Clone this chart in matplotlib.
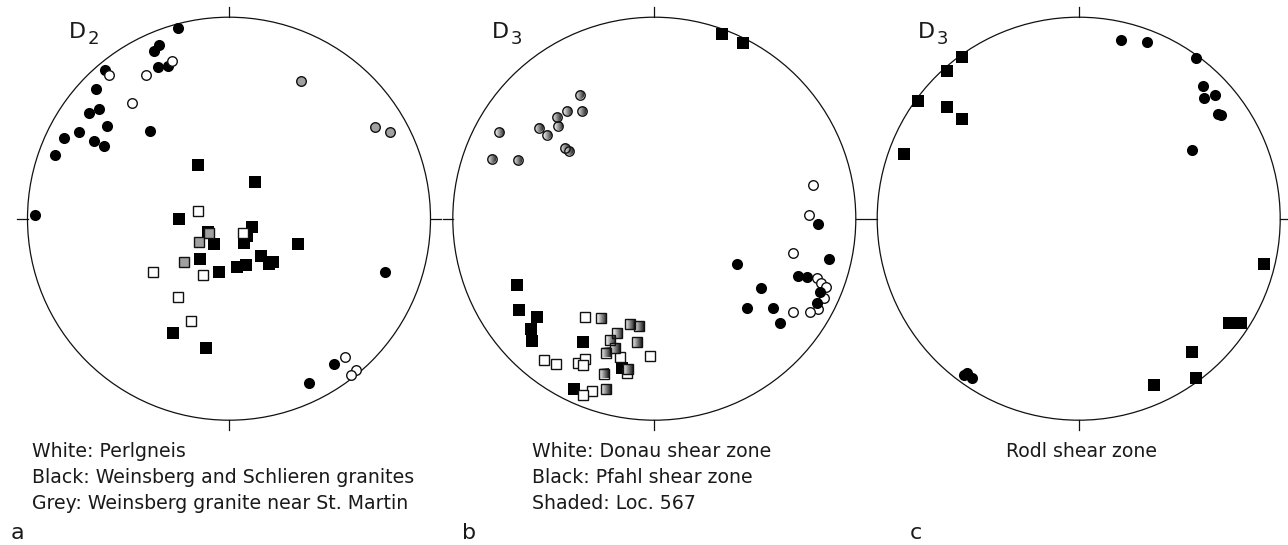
import numpy as np
import matplotlib
matplotlib.use("Agg")
import matplotlib.pyplot as plt
from matplotlib.patches import Circle

# positions on the equal-area net, x = east, y = north, net radius = 1
# --- net a (D2) ---
a_black_circ_x = [-0.252, -0.346, -0.371, -0.352, -0.304, -0.615, -0.662, -0.645, -0.696, -0.607,
                  -0.746, -0.817, -0.668, -0.620, -0.862, -0.391, -0.965, 0.774, 0.523, 0.397]
a_black_circ_y = [0.948, 0.862, 0.832, 0.751, 0.759, 0.736, 0.642, 0.543, 0.523, 0.459,
                  0.430, 0.400, 0.386, 0.362, 0.316, 0.437, 0.017, -0.266, -0.720, -0.815]
a_white_circ_x = [-0.283, -0.597, -0.412, -0.481, 0.577, 0.630, 0.604]
a_white_circ_y = [0.783, 0.712, 0.712, 0.574, -0.688, -0.751, -0.774]
a_grey_circ_x = [0.357, 0.725, 0.798]
a_grey_circ_y = [0.683, 0.455, 0.429]
a_black_sq_x = [-0.152, 0.129, -0.247, 0.116, -0.106, 0.088, -0.076, 0.073, 0.342, -0.144,
                0.157, 0.217, 0.200, 0.041, 0.083, -0.048, -0.278, -0.116]
a_black_sq_y = [0.265, 0.182, 0.000, -0.043, -0.065, -0.086, -0.126, -0.122, -0.124, -0.201,
                -0.187, -0.213, -0.226, -0.240, -0.231, -0.265, -0.567, -0.642]
a_white_sq_x = [-0.154, 0.069, -0.379, -0.131, -0.252, -0.187]
a_white_sq_y = [0.040, -0.069, -0.265, -0.278, -0.387, -0.509]
a_grey_sq_x = [-0.099, -0.147, -0.222]
a_grey_sq_y = [-0.072, -0.114, -0.215]

# --- net b (D3) ---
b_black_sq_x = [0.334, 0.442, -0.681, -0.673, -0.582, -0.610, -0.608, -0.354, -0.162, -0.397]
b_black_sq_y = [0.917, 0.870, -0.331, -0.452, -0.486, -0.547, -0.607, -0.612, -0.741, -0.845]
b_shade_circ_x = [-0.370, -0.432, -0.359, -0.484, -0.476, -0.572, -0.531, -0.769, -0.445, -0.423, -0.807, -0.678]
b_shade_circ_y = [0.615, 0.534, 0.534, 0.503, 0.462, 0.452, 0.417, 0.429, 0.351, 0.337, 0.296, 0.290]
b_white_circ_x = [0.786, 0.769, 0.687, 0.809, 0.829, 0.852, 0.844, 0.814, 0.771, 0.690]
b_white_circ_y = [0.169, 0.017, -0.169, -0.294, -0.318, -0.340, -0.392, -0.448, -0.462, -0.465]
b_black_circ_x = [0.811, 0.868, 0.412, 0.712, 0.758, 0.530, 0.822, 0.462, 0.591, 0.806, 0.622]
b_black_circ_y = [-0.026, -0.200, -0.226, -0.286, -0.289, -0.342, -0.365, -0.442, -0.442, -0.417, -0.519]
b_white_sq_x = [-0.342, -0.546, -0.488, -0.380, -0.342, -0.352, -0.170, -0.023, -0.311, -0.354, -0.134]
b_white_sq_y = [-0.488, -0.700, -0.720, -0.715, -0.698, -0.725, -0.685, -0.683, -0.854, -0.876, -0.767]
b_shade_sq_x = [-0.263, -0.121, -0.076, -0.184, -0.218, -0.086, -0.195, -0.240, -0.131, -0.251, -0.241]
b_shade_sq_y = [-0.494, -0.524, -0.534, -0.567, -0.602, -0.612, -0.643, -0.665, -0.747, -0.769, -0.845]

# --- net c (D3, Rodl) ---
c_black_sq_x = [-0.578, -0.654, -0.799, -0.655, -0.578, -0.867, 0.921, 0.747, 0.804, 0.564, 0.582, 0.374]
c_black_sq_y = [0.804, 0.734, 0.586, 0.556, 0.493, 0.321, -0.225, -0.518, -0.518, -0.663, -0.792, -0.827]
c_black_circ_x = [0.208, 0.340, 0.581, 0.618, 0.678, 0.623, 0.691, 0.708, 0.564, -0.556, -0.530, -0.568]
c_black_circ_y = [0.888, 0.878, 0.798, 0.660, 0.612, 0.600, 0.521, 0.513, 0.339, -0.764, -0.789, -0.777]

net_titles = ["2", "3", "3"]
net_letters = ["a", "b", "c"]
captions = [["White: Perlgneis", "Black: Weinsberg and Schlieren granites",
             "Grey: Weinsberg granite near St. Martin"],
            ["White: Donau shear zone", "Black: Pfahl shear zone", "Shaded: Loc. 567"],
            ["Rodl shear zone"]]

W, H = 1288, 545
fig = plt.figure(figsize=(W / 100, H / 100), dpi=100)
R = 201.5
L = 1.12
centers = [(229.0, 218.7), (654.3, 218.7), (1078.7, 218.7)]
txt = "#1a1a1a"


def make_net(cx, cy):
    half = L * R
    ax = fig.add_axes([(cx - half) / W, (H - cy - half) / H, 2 * half / W, 2 * half / H])
    ax.set_xlim(-L, L)
    ax.set_ylim(-L, L)
    ax.set_aspect("equal")
    ax.axis("off")
    ax.add_patch(Circle((0, 0), 1, fill=False, lw=0.9, color="#111111", zorder=1))
    for dx, dy in [(0, 1), (0, -1), (1, 0), (-1, 0)]:
        ax.plot([dx, dx * 1.05], [dy, dy * 1.05], color="#111111", lw=0.9, zorder=1)
    return ax


def pts(ax, xs, ys, marker, face, z=3):
    ms = 7.4 if marker == "o" else 7.6
    if face == "k":
        ax.plot(xs, ys, ls="none", marker=marker, ms=ms + 0.6, mfc="k", mec="k", mew=0.0, zorder=z)
    else:
        ax.plot(xs, ys, ls="none", marker=marker, ms=ms - 0.5, mfc=face, mec="#111111", mew=1.0, zorder=z)


def shaded(ax, xs, ys, marker, z=3):
    grad = np.linspace(0.97, 0.12, 40)[None, :]
    h = 4.6 / R
    for x, y in zip(xs, ys):
        im = ax.imshow(grad, cmap="gray", vmin=0, vmax=1, extent=[x - h, x + h, y - h, y + h],
                       interpolation="bilinear", zorder=z)
        if marker == "o":
            im.set_clip_path(Circle((x, y), h, transform=ax.transData))
    ax.plot(xs, ys, ls="none", marker=marker, ms=6.8 if marker == "o" else 7.2,
            mfc="none", mec="#111111", mew=1.0, zorder=z + 0.5)


axs = [make_net(cx, cy) for cx, cy in centers]

ax = axs[0]
pts(ax, a_black_circ_x, a_black_circ_y, "o", "k")
pts(ax, a_white_circ_x, a_white_circ_y, "o", "white", 4)
pts(ax, a_grey_circ_x, a_grey_circ_y, "o", "#a0a0a0")
pts(ax, a_black_sq_x, a_black_sq_y, "s", "k")
pts(ax, a_white_sq_x, a_white_sq_y, "s", "white", 4)
pts(ax, a_grey_sq_x, a_grey_sq_y, "s", "#a0a0a0", 4)

ax = axs[1]
pts(ax, b_black_sq_x, b_black_sq_y, "s", "k")
shaded(ax, b_shade_circ_x, b_shade_circ_y, "o")
pts(ax, b_white_circ_x, b_white_circ_y, "o", "white")
pts(ax, b_black_circ_x, b_black_circ_y, "o", "k", 4)
pts(ax, b_white_sq_x, b_white_sq_y, "s", "white")
shaded(ax, b_shade_sq_x, b_shade_sq_y, "s", 5)

ax = axs[2]
pts(ax, c_black_sq_x, c_black_sq_y, "s", "k")
pts(ax, c_black_circ_x, c_black_circ_y, "o", "k")

for ax in axs:
    ax.set_xlim(-L, L)
    ax.set_ylim(-L, L)

# D labels with subscripts
d_x = [68.5, 491.5, 917.5]
for i, xd in enumerate(d_x):
    fig.text(xd / W, (H - 38.5) / H, "D", fontsize=16, color=txt, va="baseline", ha="left")
    fig.text((xd + 19.5) / W, (H - 44.5) / H, net_titles[i], fontsize=13, color=txt, va="baseline", ha="left")

# captions
cap_x = [31.7, 531.7, 1081.0]
for i, lines in enumerate(captions):
    for j, line in enumerate(lines):
        fig.text(cap_x[i] / W, (H - 457 - 26 * j) / H, line, fontsize=13.6, color=txt,
                 va="baseline", ha="center" if i == 2 else "left")

let_x = [11.0, 461.7, 909.3]
for i, s in enumerate(net_letters):
    fig.text(let_x[i] / W, (H - 539) / H, s, fontsize=16, color=txt, va="baseline", ha="left")

fig.savefig("out.png", dpi=100)
